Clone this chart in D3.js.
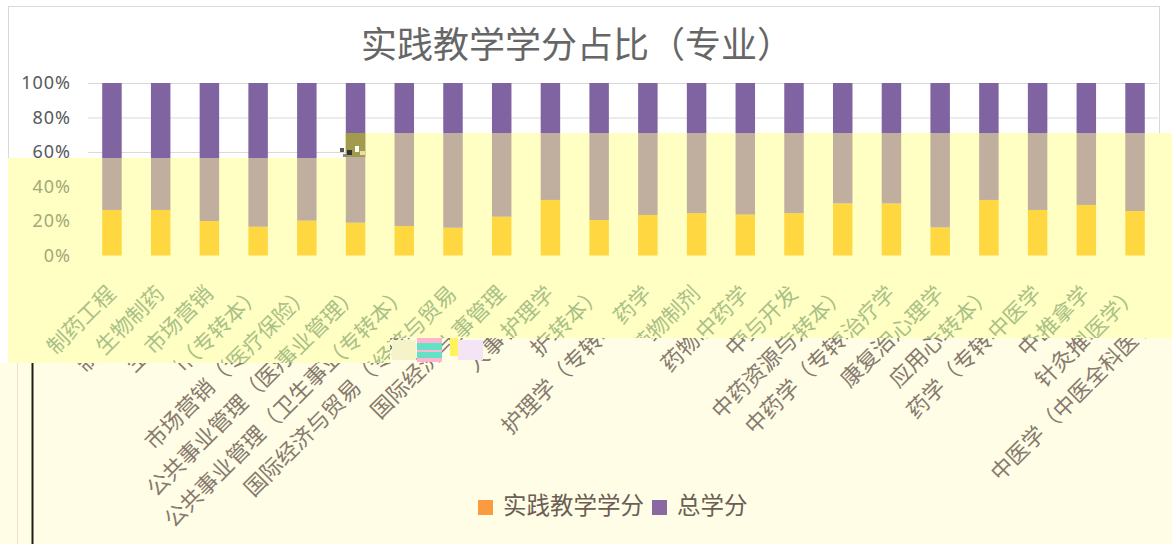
<!DOCTYPE html>
<html lang="zh">
<head>
<meta charset="UTF-8">
<title>实践教学学分占比（专业）</title>
<script src="https://cdn.jsdelivr.net/npm/d3@7"></script>
<style>
  body { margin: 0; background: #fff; }
  svg { display: block; font-family: "Noto Sans CJK SC", "Noto Sans", sans-serif; }
</style>
</head>
<body>
<svg id="chart"></svg>
<script>
// data (share of credits, %)
const majors = [
  "制药工程", "生物制药", "市场营销", "市场营销（专转本）",
  "公共事业管理（医疗保险）", "公共事业管理（卫生事业管理）",
  "国际经济与贸易（专转本）", "国际经济与贸易", "人事管理", "护理学",
  "护理学（专转本）", "药学", "药物制剂", "中药学", "中药资源与开发",
  "中药学（专转本）", "康复治疗学", "应用心理学", "药学（专转本）",
  "中医学", "针灸推拿学", "中医学（中医全科医学）"
];
const practice = [26.4, 26.4, 20.0, 16.7, 20.2, 19.0, 17.1, 16.1, 22.5, 32.2, 20.6,
                  23.5, 24.5, 23.7, 24.5, 30.2, 30.2, 16.3, 32.2, 26.4, 29.3, 25.8];
const total    = [73.6, 73.6, 80.0, 83.3, 79.8, 81.0, 82.9, 83.9, 77.5, 67.8, 79.4,
                  76.5, 75.5, 76.3, 75.5, 69.8, 69.8, 83.7, 67.8, 73.6, 70.7, 74.2];
const seriesNames = ["实践教学学分", "总学分"];
const yTicks = [0, 0.2, 0.4, 0.6, 0.8, 1];

const width = 1172, height = 544;

const svg = d3.select("#chart").attr("width", width).attr("height", height);

const rows = majors.map((m, i) => ({ major: m, practice: practice[i], total: total[i] }));
const stacked = d3.stack().keys(["practice", "total"]).offset(d3.stackOffsetExpand)(rows);

const x = d3.scaleBand().domain(majors).range([87.6, 1159.4])
    .paddingInner(0.6).paddingOuter(0.3);
const y = d3.scaleLinear().domain([0, 1]).range([255.5, 83]);

// the two washed regions of the picture
const overlayPts = [[8, 158], [345, 158], [345, 133], [1172, 133], [1172, 338], [390, 338], [390, 363], [8, 363]];
const creamPts = [[0, 363], [390, 363], [390, 338], [1172, 338], [1172, 544], [0, 544]];

const defs = svg.append("defs");
defs.append("clipPath").attr("id", "clip-overlay").append("polygon").attr("points", overlayPts.join(" "));
defs.append("clipPath").attr("id", "clip-cream").append("polygon").attr("points", creamPts.join(" "));

function drawAxis(g, color) {
    g.append("g")
        .attr("transform", "translate(71,0)")
        .call(d3.axisLeft(y).tickValues(yTicks).tickFormat(d3.format(".0%")).tickSize(0).tickPadding(0))
        .call(a => a.select(".domain").remove())
        .selectAll("text")
        .attr("font-family", "'Noto Sans', sans-serif")
        .attr("font-size", 18)
        .attr("letter-spacing", 1)
        .attr("fill", color);
}

function drawBars(g, colors) {
    g.append("g").selectAll("g")
        .data(stacked)
        .join("g")
        .attr("fill", (d, i) => colors[i])
        .selectAll("rect")
        .data(d => d)
        .join("rect")
        .attr("x", d => x(d.data.major))
        .attr("y", d => y(d[1]))
        .attr("width", x.bandwidth())
        .attr("height", d => y(d[0]) - y(d[1]));
}

function drawLabels(g, color, size, dx, yPos) {
    g.append("g").selectAll("text")
        .data(majors)
        .join("text")
        .attr("transform", d => `translate(${x(d) + x.bandwidth() / 2 + dx},${yPos}) rotate(-45)`)
        .attr("text-anchor", "end")
        .attr("font-size", size)
        .attr("fill", color)
        .text(d => d);
}

// base chart
svg.append("rect").attr("width", width).attr("height", height).attr("fill", "#fff");
svg.append("rect").attr("x", 8.5).attr("y", 6.5).attr("width", 1151).attr("height", 536)
    .attr("fill", "none").attr("stroke", "#d9d9d9");

svg.append("text")
    .attr("x", 577).attr("y", 48)
    .attr("text-anchor", "middle").attr("dominant-baseline", "middle")
    .attr("font-size", 36).attr("fill", "#666")
    .text("实践教学学分占比（专业）");

svg.append("g").selectAll("line")
    .data(yTicks)
    .join("line")
    .attr("x1", 88).attr("x2", 1158)
    .attr("y1", d => y(d) + 0.5).attr("y2", d => y(d) + 0.5)
    .attr("stroke", "#d9d9d9");

drawAxis(svg, "#595959");
drawBars(svg, ["#f79646", "#8064a2"]);

// yellow wash
const ov = svg.append("g").attr("clip-path", "url(#clip-overlay)");
ov.append("rect").attr("width", width).attr("height", height).attr("fill", "#ffffc3");
drawAxis(ov, "#a3a979");
drawBars(ov, ["#ffd740", "#c0af9f"]);
drawLabels(ov, "#a9c088", 21.5, 5, 295);

// glitch on the sixth bar
svg.append("rect").attr("x", x(majors[5])).attr("y", 133).attr("width", x.bandwidth()).attr("height", 24)
    .attr("fill", "#a29a4c");
svg.append("g").selectAll("rect")
    .data([[340, 148, 4, 4, "#555"], [347, 150, 5, 5, "#333"], [355, 146, 4, 6, "#fff"], [360, 151, 5, 4, "#e8e0a0"], [343, 154, 4, 3, "#888"]])
    .join("rect")
    .attr("x", d => d[0]).attr("y", d => d[1]).attr("width", d => d[2]).attr("height", d => d[3])
    .attr("fill", d => d[4]);

// cream lower region
const cr = svg.append("g").attr("clip-path", "url(#clip-cream)");
cr.append("rect").attr("width", width).attr("height", height).attr("fill", "#fffde6");
cr.append("line").attr("x1", 17.5).attr("x2", 17.5).attr("y1", 363).attr("y2", 544).attr("stroke", "#f1dccb");
cr.append("line").attr("x1", 32.5).attr("x2", 32.5).attr("y1", 363).attr("y2", 544)
    .attr("stroke", "#1c1c1c").attr("stroke-width", 2);
drawLabels(cr, "#877a6e", 22, 36, 311);

// colour blocks where the two regions meet
svg.append("g").selectAll("rect")
    .data([[417, 338, 25, 5, "#ffb4cf"], [417, 343, 25, 7, "#62e2c4"], [417, 350, 25, 2, "#ffb4cf"],
           [417, 352, 25, 6, "#62e2c4"], [417, 358, 25, 4, "#ffb4cf"], [450, 338, 8, 18, "#fff25a"],
           [458, 340, 25, 20, "#f4e4f4"], [392, 340, 24, 20, "#f4f4c8"]])
    .join("rect")
    .attr("x", d => d[0]).attr("y", d => d[1]).attr("width", d => d[2]).attr("height", d => d[3])
    .attr("fill", d => d[4]);

// legend
const legend = svg.append("g").attr("font-size", 23.5).attr("fill", "#6b5e55");
let lx = 478;
seriesNames.forEach((name, i) => {
    legend.append("rect").attr("x", lx).attr("y", 500).attr("width", 15).attr("height", 15)
        .attr("fill", ["#fb9a3e", "#8a68a2"][i]);
    const t = legend.append("text").attr("x", lx + 25).attr("y", 508)
        .attr("dominant-baseline", "middle").text(name);
    lx += 25 + t.node().getComputedTextLength() + 8;
});
</script>
</body>
</html>
